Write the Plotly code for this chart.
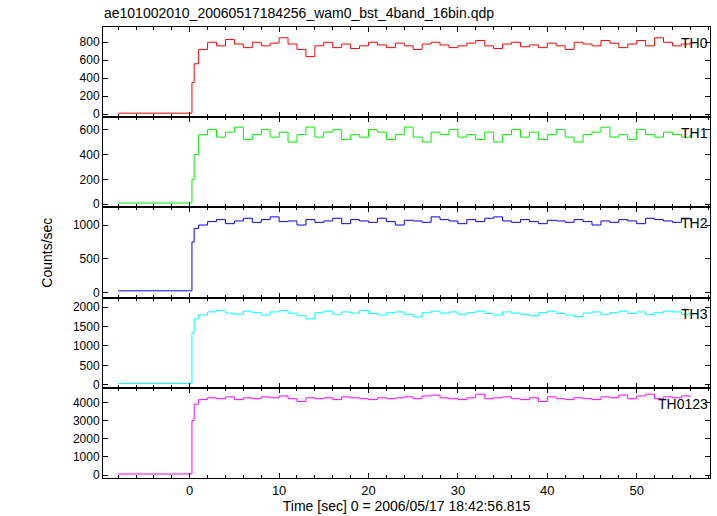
import plotly.graph_objects as go
from plotly.subplots import make_subplots

pre_t = [-8.0, 0.0]
burst_t = [0.25, 0.5] + [float(i) for i in range(1, 57)]
names = ["TH0", "TH1", "TH2", "TH3", "TH0123"]
colors = ["#ff0000", "#00ee00", "#0000ff", "#00ffff", "#ff00ff"]
pre_vals = [[10, 10], [10, 10], [30, 30], [30, 30], [60, 60]]
th0 = [350, 560, 720, 800, 760, 830, 780, 740, 800, 760, 790, 850, 780, 720, 640, 760, 800, 740, 780, 730, 760, 800, 770, 740, 790, 760, 720, 780, 800, 770, 740, 760, 790, 820, 760, 730, 780, 800, 750, 770, 740, 790, 760, 720, 800, 780, 760, 820, 790, 740, 780, 820, 760, 850, 800, 760, 780, 800]
th1 = [200, 400, 560, 600, 540, 580, 620, 520, 560, 600, 540, 580, 500, 560, 620, 540, 580, 600, 520, 560, 540, 600, 580, 520, 560, 620, 540, 500, 580, 560, 600, 540, 560, 520, 580, 500, 560, 600, 540, 580, 520, 560, 600, 540, 500, 560, 580, 620, 540, 560, 520, 600, 560, 540, 580, 560, 540, 560]
th2 = [750, 950, 1000, 1050, 1080, 1020, 1060, 1100, 1040, 1080, 1120, 1050, 1060, 1000, 1080, 1040, 1060, 1100, 1020, 1080, 1060, 1040, 1100, 1050, 1000, 1070, 1060, 1040, 1120, 1080, 1060, 1020, 1080, 1050, 1100, 1120, 1060, 1040, 1080, 1050, 1020, 1070, 1060, 1040, 1080, 1050, 1000, 1060, 1040, 1080, 1060, 1020, 1100, 1080, 1060, 1040, 1100, 1060]
th3 = [1350, 1700, 1800, 1880, 1920, 1850, 1820, 1900, 1860, 1800, 1880, 1920, 1850, 1780, 1700, 1860, 1900, 1820, 1880, 1850, 1920, 1840, 1800, 1860, 1880, 1820, 1750, 1860, 1900, 1850, 1880, 1820, 1860, 1900, 1840, 1800, 1880, 1850, 1820, 1780, 1860, 1900, 1840, 1800, 1760, 1850, 1880, 1820, 1860, 1900, 1840, 1880, 1820, 1860, 1900, 1880, 1820, 1860]
th0123 = [3000, 3900, 4150, 4250, 4200, 4300, 4150, 4250, 4200, 4300, 4250, 4350, 4200, 4050, 4250, 4200, 4250, 4150, 4300, 4250, 4200, 4150, 4250, 4200, 4250, 4300, 4200, 4350, 4400, 4250, 4200, 4150, 4250, 4450, 4200, 4250, 4300, 4200, 4150, 4250, 4050, 4300, 4200, 4150, 4250, 4200, 4150, 4300, 4250, 4400, 4200, 4350, 4450, 4200, 4300, 4250, 4350, 4300]
series = [th0, th1, th2, th3, th0123]
yranges = [[-35, 970], [-25, 700], [-70, 1260], [-80, 2250], [-160, 4800]]
ytick = [[0, 200, 400, 600, 800], [0, 200, 400, 600], [0, 500, 1000], [0, 500, 1000, 1500, 2000], [0, 1000, 2000, 3000, 4000]]

fig = make_subplots(rows=5, cols=1, shared_xaxes=True, vertical_spacing=0)
for i in range(5):
    fig.add_trace(go.Scatter(x=pre_t + burst_t, y=pre_vals[i] + series[i], mode="lines",
                             line=dict(color=colors[i], width=1, shape="hv"), showlegend=False), row=i+1, col=1)
    fig.update_yaxes(range=yranges[i], tickvals=ytick[i], row=i+1, col=1)
    fig.add_annotation(text=names[i], x=1, xref="paper", y=yranges[i][1]*0.93, yref=f"y{i+1 if i else ''}",
                       xanchor="right", yanchor="top", showarrow=False, font=dict(size=14, color="black"))
axstyle = dict(showline=True, linecolor="black", mirror="ticks", ticks="inside", ticklen=5,
               tickcolor="black", showgrid=False, zeroline=False, tickfont=dict(size=12, color="black"))
fig.update_xaxes(range=[-9.7, 58.2], tickvals=[0, 10, 20, 30, 40, 50], minor=dict(dtick=2, ticks="inside", ticklen=3, tickcolor="black"), **axstyle)
fig.update_xaxes(tickfont=dict(size=13))
fig.update_yaxes(**axstyle)
fig.update_xaxes(title=dict(text="Time [sec] 0 = 2006/05/17 18:42:56.815", font=dict(size=14, color="black"), standoff=2), row=5, col=1)
fig.add_annotation(text="Counts/sec", x=-0.11, xref="paper", y=0.5, yref="paper", textangle=-90,
                   showarrow=False, font=dict(size=14, color="black"))
fig.update_layout(width=717, height=516, paper_bgcolor="white", plot_bgcolor="white",
                  margin=dict(l=103, r=7, t=27, b=38), font=dict(family="Liberation Sans"),
                  title=dict(text="ae101002010_20060517184256_wam0_bst_4band_16bin.qdp", x=0.145, y=0.985,
                             xanchor="left", font=dict(size=14, color="black")))
fig.write_html("out.html", config={"displayModeBar": False},
               post_script="document.body.style.margin='0';document.body.style.overflow='hidden';")
